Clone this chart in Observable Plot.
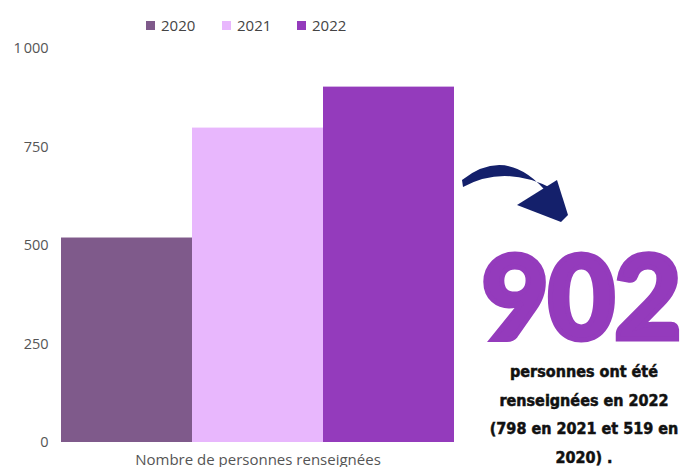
<!DOCTYPE html>
<html><head><meta charset="utf-8">
<script src="https://cdn.jsdelivr.net/npm/d3@7"></script>
<script src="https://cdn.jsdelivr.net/npm/@observablehq/plot@0.6"></script>
<style>
body{margin:0;background:#fff;width:687px;height:467px;overflow:hidden;position:relative;font-family:"Open Sans",sans-serif}
#legend{height:36px;position:relative}
.sw{position:absolute;top:18px;font-size:15px;color:#444;line-height:14px;display:flex;align-items:center}
.sw i{display:inline-block;width:9px;height:9px;margin-right:6px}
#big{position:absolute;left:466px;width:230px;top:251px;text-align:center;font-family:"Lato",sans-serif;font-weight:900;font-size:116px;line-height:88px;color:#943bbc;letter-spacing:-1px;-webkit-text-stroke:5px #943bbc}
#note{position:absolute;left:470px;width:228px;top:358px;text-align:center;font-family:"DejaVu Sans Condensed","DejaVu Sans",sans-serif;font-weight:bold;font-size:16px;line-height:28.5px;color:#111;-webkit-text-stroke:0.5px #111}
#arrow{position:absolute;left:0;top:0}
</style>
</head><body>
<div id="legend"></div>
<div id="chart"></div>
<svg id="arrow" width="687" height="467"><path d="M462,180 Q508,144 549,195 L553,189 Q505,164 463,187 Z" fill="#14206b"/><path d="M517,205 L557,180 L568,215 L561,222 Z" fill="#14206b"/></svg>
<div id="big">902</div>
<div id="note">personnes ont été<br>renseignées en 2022<br>(798 en 2021 et 519 en<br>2020) .</div>
<script>
const category = "Nombre de personnes renseignées";
const years = ["2020", "2021", "2022"];
const values = [519, 798, 902];
const colors = ["#7f5a8b", "#e8b7fd", "#943bbc"];
const yTicks = [0, 250, 500, 750, 1000];
const legendX = [146, 222, 297];

const data = years.map((y, i) => ({category, year: y, value: values[i]}));

const legend = document.getElementById("legend");
years.forEach((y, i) => {
  const d = document.createElement("div");
  d.className = "sw";
  d.style.left = legendX[i] + "px";
  d.innerHTML = `<i style="background:${colors[i]}"></i>${y}`;
  legend.appendChild(d);
});

const fmt = d => d3.format(",")(d).replace(",", "\u202f");

const chart = Plot.plot({
  width: 687,
  height: 431,
  marginTop: 12,
  marginBottom: 25,
  marginLeft: 60,
  marginRight: 232,
  style: {fontFamily: "Open Sans, sans-serif", fontSize: "14.5px", color: "#555", background: "transparent"},
  fx: {padding: 0, axis: "bottom", tickSize: 0, tickPadding: 12, label: null, fontSize: 15},
  x: {domain: years, padding: 0, axis: null},
  y: {domain: [0, 1000], ticks: yTicks, tickFormat: fmt, tickSize: 0, tickPadding: 12, label: null},
  color: {domain: years, range: colors},
  marks: [
    Plot.barY(data, {fx: "category", x: "year", y: "value", fill: "year", inset: 0})
  ]
});
chart.querySelectorAll('[aria-label="fx-axis tick label"] text').forEach(t => t.setAttribute("font-size", "15"));
document.getElementById("chart").appendChild(chart);
</script>
</body></html>
